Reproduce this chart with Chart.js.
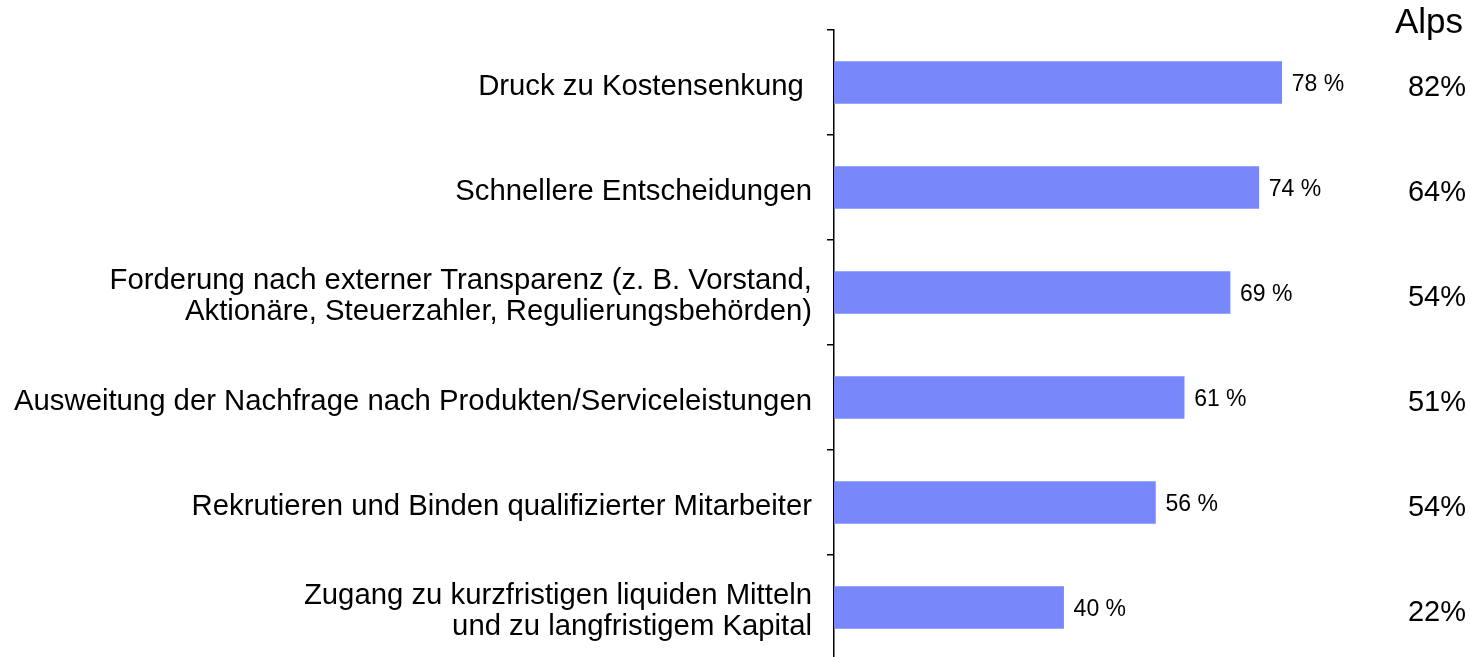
<!DOCTYPE html>
<html><head><meta charset="utf-8">
<script src="https://cdn.jsdelivr.net/npm/chart.js@4.4.1/dist/chart.umd.min.js"></script>
<style>
html,body{margin:0;padding:0;background:#fff;overflow:hidden;}
#wrap{position:relative;width:1470px;height:661px;}
</style></head>
<body><div id="wrap"><canvas id="c"></canvas></div>
<script>
const categories = [
  "Druck zu Kostensenkung ",
  ["Schnellere Entscheidungen"],
  ["Forderung nach externer Transparenz (z. B. Vorstand,", "Aktionäre, Steuerzahler, Regulierungsbehörden)"],
  ["Ausweitung der Nachfrage nach Produkten/Serviceleistungen"],
  ["Rekrutieren und Binden qualifizierter Mitarbeiter"],
  ["Zugang zu kurzfristigen liquiden Mitteln", "und zu langfristigem Kapital"]
];
const values = [78, 74, 69, 61, 56, 40];
const alpsValues = [82, 64, 54, 51, 54, 22];
const alpsTitle = "Alps";

const FONT = '"Liberation Sans", Arial, sans-serif';

const labelsPlugin = {
  id: 'labelsPlugin',
  afterDatasetsDraw(chart) {
    const ctx = chart.ctx;
    const meta = chart.getDatasetMeta(0);
    const y = chart.scales.y;
    ctx.save();
    ctx.fillStyle = '#000';
    ctx.textBaseline = 'alphabetic';
    ctx.font = '23px ' + FONT;
    ctx.textAlign = 'left';
    meta.data.forEach((bar, i) => {
      ctx.fillText(values[i] + ' %', bar.x + 10, bar.y + 8.5);
    });
    ctx.font = '29px ' + FONT;
    ctx.textAlign = 'right';
    alpsValues.forEach((v, i) => {
      ctx.fillText(v + '%', 1466, y.getPixelForValue(i) + 13.5);
    });
    ctx.font = '35px ' + FONT;
    ctx.fillText(alpsTitle, 1463, 33);
    ctx.restore();
  }
};

new Chart(document.getElementById('c'), {
  type: 'bar',
  data: {
    labels: categories,
    datasets: [{
      data: values,
      backgroundColor: '#7888FB',
      barThickness: 42
    }]
  },
  options: {
    indexAxis: 'y',
    responsive: true,
    maintainAspectRatio: false,
    animation: false,
    layout: { padding: { top: 30, right: 62, bottom: 1, left: 0 } },
    plugins: { legend: { display: false }, tooltip: { enabled: false } },
    scales: {
      x: { display: false, min: 0, max: 100 },
      y: {
        offset: true,
        afterFit(scale) { scale.width = 834; scale.paddingTop = 0; scale.paddingBottom = 0; },
        grid: { drawOnChartArea: false, drawTicks: true, tickLength: 7, color: '#000', lineWidth: 1.5, offset: true },
        border: { display: true, color: '#000', width: 1.5 },
        ticks: {
          color: '#000',
          padding: 15,
          labelOffset: 4,
          font: { family: FONT, size: 29.3, lineHeight: 1.07 }
        }
      }
    }
  },
  plugins: [labelsPlugin]
});
</script>
</body></html>
